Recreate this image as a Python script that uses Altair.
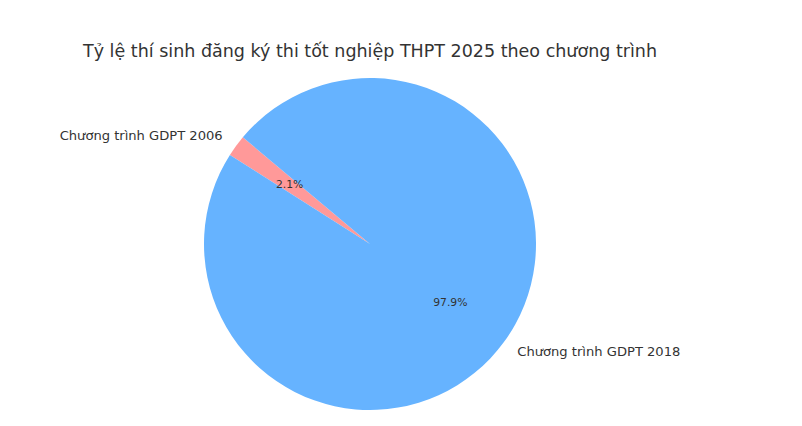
import altair as alt
import pandas as pd
import math

labels = ["Chương trình GDPT 2006", "Chương trình GDPT 2018"]
shares = [2.1, 97.9]
pct_text = ["2.1%", "97.9%"]
colors = ["#ff9999", "#66b3ff"]
order = [0, 1]

df = pd.DataFrame({"label": labels, "share": shares, "pct": pct_text, "ord": order})

start_deg = 90 - 140 - shares[0] * 3.6 + 360
theta_scale = alt.Scale(range=[math.radians(start_deg), math.radians(start_deg + 360)])

R = 166
base = alt.Chart(df).encode(
    theta=alt.Theta("share:Q", stack=True, scale=theta_scale),
    order=alt.Order("ord:Q"),
)

arcs = base.mark_arc(outerRadius=R).encode(
    color=alt.Color("label:N", scale=alt.Scale(domain=labels, range=colors), legend=None)
)

pcts = base.mark_text(radius=0.6 * R, font="DejaVu Sans", fontSize=10.8, color="#333333").encode(
    text="pct:N"
)

lab_left = base.mark_text(radius=1.1 * R, font="DejaVu Sans", fontSize=13.1, color="#333333",
                          align="right", baseline="middle").encode(
    text=alt.Text("label:N"),
    opacity=alt.condition(alt.datum.ord == 0, alt.value(1), alt.value(0)),
)
lab_right = base.mark_text(radius=1.1 * R, font="DejaVu Sans", fontSize=13.1, color="#333333",
                           align="left", baseline="middle").encode(
    text=alt.Text("label:N"),
    opacity=alt.condition(alt.datum.ord == 1, alt.value(1), alt.value(0)),
)

chart = alt.layer(arcs, pcts, lab_left, lab_right).properties(
    width=724,
    height=348,
    autosize=alt.AutoSizeParams(type="none"),
    padding={"top": 62, "left": 0, "right": 0, "bottom": 0},
    title=alt.TitleParams(
        "Tỷ lệ thí sinh đăng ký thi tốt nghiệp THPT 2025 theo chương trình",
        font="DejaVu Sans", fontSize=17.5, fontWeight="normal", color="#333333",
        anchor="middle", offset=10,
    ),
).configure_view(stroke=None)

chart.save("out.html", embed_options={"renderer": "svg", "actions": False})
